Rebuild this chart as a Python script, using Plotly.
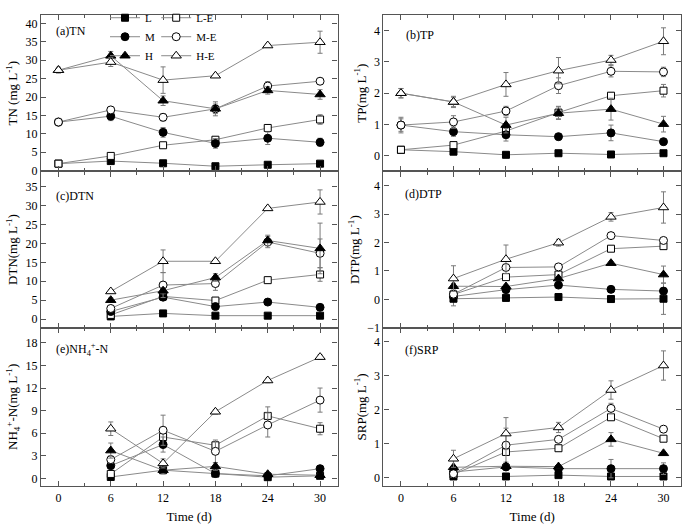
import plotly.graph_objects as go
from plotly.subplots import make_subplots

# ---------------- data ----------------
days_a = [0, 6, 12, 18, 24, 30]
days_c = [6, 12, 18, 24, 30]
series_names = ["L", "L-E", "M", "M-E", "H", "H-E"]

TN = {
    "L":   [1.9, 2.6, 2.0, 1.2, 1.6, 1.9],
    "L-E": [1.9, 4.0, 6.9, 8.4, 11.6, 13.9],
    "M":   [13.2, 14.8, 10.4, 7.4, 8.8, 7.7],
    "M-E": [13.2, 16.5, 14.5, 16.8, 23.0, 24.3],
    "H":   [27.3, 31.2, 19.0, 16.8, 21.8, 20.7],
    "H-E": [27.3, 29.5, 24.6, 25.8, 34.0, 34.9],
}
TN_err = {
    "L":   [0.3, 0.5, 0.5, 0.4, 0.4, 0.5],
    "L-E": [0.4, 0.6, 0.5, 0.5, 0.8, 1.3],
    "M":   [0.8, 1.2, 1.3, 1.3, 1.7, 1.1],
    "M-E": [1.0, 0.8, 1.0, 1.3, 1.2, 0.5],
    "H":   [0.5, 1.2, 1.3, 1.9, 1.0, 1.3],
    "H-E": [0.8, 1.2, 3.6, 0.5, 0.5, 3.0],
}
TP = {
    "L":   [0.19, 0.13, 0.03, 0.08, 0.04, 0.08],
    "L-E": [0.19, 0.34, 0.79, 1.38, 1.92, 2.08],
    "M":   [0.98, 0.77, 0.67, 0.61, 0.73, 0.45],
    "M-E": [0.98, 1.08, 1.43, 2.24, 2.70, 2.68],
    "H":   [2.0, 1.72, 0.98, 1.36, 1.49, 1.01],
    "H-E": [2.0, 1.72, 2.28, 2.72, 3.06, 3.66],
}
TP_err = {
    "L":   [0.05, 0.05, 0.05, 0.05, 0.05, 0.05],
    "L-E": [0.05, 0.10, 0.10, 0.20, 0.10, 0.20],
    "M":   [0.20, 0.15, 0.20, 0.10, 0.25, 0.10],
    "M-E": [0.25, 0.20, 0.15, 0.25, 0.18, 0.15],
    "H":   [0.15, 0.15, 0.25, 0.20, 0.35, 0.25],
    "H-E": [0.15, 0.18, 0.38, 0.42, 0.15, 0.43],
}
DTN = {
    "L":   [0.7, 1.5, 0.9, 0.9, 0.9],
    "L-E": [1.1, 6.0, 4.9, 10.3, 11.8],
    "M":   [2.0, 5.8, 3.3, 4.5, 3.1],
    "M-E": [2.8, 9.0, 9.4, 20.4, 17.4],
    "H":   [5.0, 7.5, 11.0, 20.8, 18.7],
    "H-E": [7.3, 15.3, 15.3, 29.3, 31.0],
}
DTN_err = {
    "L":   [0.3, 0.4, 0.3, 0.3, 0.3],
    "L-E": [0.4, 0.5, 0.5, 0.5, 1.8],
    "M":   [0.5, 0.5, 0.5, 0.5, 0.5],
    "M-E": [0.8, 3.3, 1.8, 1.5, 3.8],
    "H":   [0.6, 0.8, 1.0, 1.4, 6.7],
    "H-E": [0.5, 3.0, 0.5, 0.5, 3.2],
}
DTP = {
    "L":   [0.02, 0.05, 0.08, 0.01, 0.02],
    "L-E": [0.17, 0.78, 0.87, 1.78, 1.87],
    "M":   [0.10, 0.34, 0.50, 0.35, 0.29],
    "M-E": [0.18, 1.12, 1.14, 2.24, 2.07],
    "H":   [0.46, 0.45, 0.73, 1.27, 0.87],
    "H-E": [0.73, 1.41, 1.99, 2.90, 3.23],
}
DTP_err = {
    "L":   [0.25, 0.05, 0.05, 0.05, 0.55],
    "L-E": [0.05, 0.10, 0.10, 0.05, 0.10],
    "M":   [0.10, 0.10, 0.05, 0.05, 0.05],
    "M-E": [0.10, 0.10, 0.05, 0.05, 0.10],
    "H":   [0.10, 0.05, 0.05, 0.05, 0.30],
    "H-E": [0.45, 0.50, 0.12, 0.15, 0.55],
}
NH4 = {
    "L":   [0.2, 1.1, 0.65, 0.17, 0.35],
    "L-E": [0.6, 5.5, 4.4, 8.3, 6.6],
    "M":   [1.7, 4.5, 0.65, 0.35, 1.3],
    "M-E": [2.5, 6.4, 3.6, 7.1, 10.4],
    "H":   [3.7, 1.1, 1.6, 0.56, 0.43],
    "H-E": [6.6, 2.0, 8.85, 13.0, 16.1],
}
NH4_err = {
    "L":   [0.2, 0.3, 0.2, 0.1, 0.2],
    "L-E": [0.3, 0.6, 0.4, 1.2, 0.8],
    "M":   [0.4, 1.0, 0.3, 0.2, 0.3],
    "M-E": [0.5, 2.0, 1.5, 1.6, 1.6],
    "H":   [1.0, 0.5, 0.5, 0.2, 0.2],
    "H-E": [0.9, 0.6, 0.3, 0.3, 0.3],
}
SRP = {
    "L":   [0.03, 0.03, 0.07, 0.03, 0.03],
    "L-E": [0.09, 0.75, 0.86, 1.77, 1.14],
    "M":   [0.16, 0.31, 0.26, 0.26, 0.26],
    "M-E": [0.11, 0.95, 1.12, 2.03, 1.42],
    "H":   [0.30, 0.33, 0.32, 1.12, 0.71],
    "H-E": [0.55, 1.29, 1.47, 2.57, 3.29],
}
SRP_err = {
    "L":   [0.02, 0.02, 0.02, 0.02, 0.02],
    "L-E": [0.05, 0.10, 0.05, 0.05, 0.05],
    "M":   [0.05, 0.05, 0.05, 0.27, 0.17],
    "M-E": [0.05, 0.50, 0.05, 0.15, 0.05],
    "H":   [0.05, 0.05, 0.05, 0.20, 0.05],
    "H-E": [0.25, 0.47, 0.15, 0.27, 0.43],
}

x_ticks = [0, 6, 12, 18, 24, 30]

panels = [
    # (row, col, x, data, err, label, ytitle, yrange, dtick)
    (1, 1, days_a, TN, TN_err, "(a)TN", "TN (mg L<sup>-1</sup>)", [-0.2, 42.3], 5),
    (1, 2, days_a, TP, TP_err, "(b)TP", "TP(mg L<sup>-1</sup>)", [-0.5, 4.5], 1),
    (2, 1, days_c, DTN, DTN_err, "(c)DTN", "DTN(mg L<sup>-1</sup>)", [-2.3, 39.1], 5),
    (2, 2, days_c, DTP, DTP_err, "(d)DTP", "DTP(mg L<sup>-1</sup>)", [-1, 4.5], 1),
    (3, 1, days_c, NH4, NH4_err, "(e)NH<sub>4</sub><sup>+</sup>-N",
     "NH<sub>4</sub><sup>+</sup>-N(mg L<sup>-1</sup>)", [-1, 20], 3),
    (3, 2, days_c, SRP, SRP_err, "(f)SRP", "SRP(mg L<sup>-1</sup>)", [-0.25, 4.4], 1),
]

# ---------------- styles ----------------
style = {
    "L":   dict(symbol="square", color="black", size=7),
    "L-E": dict(symbol="square", color="white", size=7),
    "M":   dict(symbol="circle", color="black", size=8),
    "M-E": dict(symbol="circle", color="white", size=8),
    "H":   dict(symbol="triangle-up", color="black", size=9),
    "H-E": dict(symbol="triangle-up", color="white", size=9),
}
legend_of = {"L": "legend", "M": "legend", "H": "legend",
             "L-E": "legend2", "M-E": "legend2", "H-E": "legend2"}
FONT = "Liberation Serif, serif"
LINE_C = "#8a8a8a"
ERR_C = "#7a7a7a"
AX_C = "#555555"

fig = make_subplots(rows=3, cols=2, horizontal_spacing=0.07, vertical_spacing=0)

for (row, col, xs, data, err, label, ytitle, yr, dt) in panels:
    first = (row == 1 and col == 1)
    for name in series_names:
        st = style[name]
        fig.add_trace(go.Scatter(
            x=xs, y=data[name], name=name, mode="lines+markers",
            line=dict(color=LINE_C, width=1),
            marker=dict(symbol=st["symbol"], size=st["size"], color=st["color"],
                        line=dict(color="black", width=1)),
            error_y=dict(type="data", array=err[name], color=ERR_C, thickness=1, width=2.5),
            showlegend=first, legend=legend_of[name],
        ), row=row, col=col)

# domains
xdom = {1: [0.0, 0.4633], 2: [0.5351, 1.0]}
ydom = {1: [0.668, 1.0], 2: [0.336, 0.668], 3: [0.0, 0.336]}

label_pos = {
    (1, 1): (0.045, 0.90), (1, 2): (0.07, 0.875),
    (2, 1): (0.045, 0.84), (2, 2): (0.065, 0.857),
    (3, 1): (0.045, 0.865), (3, 2): (0.065, 0.86),
}

for (row, col, xs, data, err, label, ytitle, yr, dt) in panels:
    fig.update_xaxes(
        domain=xdom[col], range=[-2, 32], tickvals=x_ticks,
        ticks="inside", ticklen=5, tickcolor=AX_C, tickwidth=1,
        minor=dict(dtick=3, tick0=0, ticks="inside", ticklen=3, tickcolor=AX_C),
        showline=True, linecolor=AX_C, linewidth=1.3, mirror="ticks",
        showgrid=False, zeroline=False,
        showticklabels=(row == 3),
        tickfont=dict(family=FONT, size=12, color="black"),
        title=dict(text="Time (d)" if row == 3 else "", font=dict(family=FONT, size=13, color="black"),
                   standoff=8),
        row=row, col=col)
    fig.update_yaxes(
        domain=ydom[row], range=yr, dtick=dt, tick0=0,
        ticks="inside", ticklen=5, tickcolor=AX_C, tickwidth=1,
        showline=True, linecolor=AX_C, linewidth=1.3, mirror="ticks",
        showgrid=False, zeroline=False,
        tickfont=dict(family=FONT, size=12, color="black"),
        title=dict(text=ytitle, font=dict(family=FONT, size=13, color="black"), standoff=4),
        row=row, col=col)
    xa = fig.get_subplot(row, col).xaxis.plotly_name.replace("axis", "")
    ya = fig.get_subplot(row, col).yaxis.plotly_name.replace("axis", "")
    lx, ly = label_pos[(row, col)]
    fig.add_annotation(text=label, xref=f"{xa} domain", yref=f"{ya} domain",
                       x=lx, y=ly, xanchor="left", yanchor="middle", showarrow=False,
                       font=dict(family=FONT, size=12, color="black"))

fig.update_layout(
    width=685, height=525,
    margin=dict(l=41, r=3, t=3, b=37),
    paper_bgcolor="white", plot_bgcolor="white",
    font=dict(family=FONT, size=12, color="black"),
    legend=dict(x=0.1, y=1.025, xanchor="left", yanchor="top", bgcolor="rgba(0,0,0,0)",
                font=dict(family=FONT, size=11), tracegroupgap=0, itemwidth=30),
    legend2=dict(x=0.18, y=1.025, xanchor="left", yanchor="top", bgcolor="rgba(0,0,0,0)",
                 font=dict(family=FONT, size=11), tracegroupgap=0, itemwidth=30),
)

fig.write_html("out.html", config={"displayModeBar": False},
               post_script="document.body.style.margin='0px';document.body.style.overflow='hidden';")
